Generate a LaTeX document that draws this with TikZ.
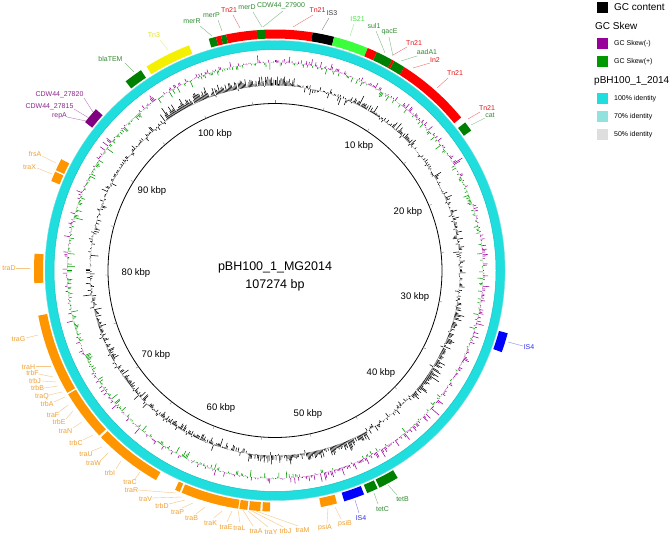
\documentclass[tikz,border=0pt]{standalone}
\usepackage{fontspec}
\setmainfont{Liberation Sans}
\definecolor{ringcyan}{RGB}{32,222,222}
\definecolor{ringedge}{RGB}{20,196,196}
\definecolor{fred}{RGB}{255,0,0}
\definecolor{fgreen}{RGB}{0,128,0}
\definecolor{flgreen}{RGB}{60,255,60}
\definecolor{fyellow}{RGB}{245,240,0}
\definecolor{forange}{RGB}{255,150,0}
\definecolor{fblue}{RGB}{0,0,255}
\definecolor{fpurple}{RGB}{128,0,128}
\definecolor{tgreen}{RGB}{50,140,50}
\definecolor{tred}{RGB}{235,20,20}
\definecolor{tlgreen}{RGB}{70,230,70}
\definecolor{tyellow}{RGB}{225,225,40}
\definecolor{torange}{RGB}{240,160,50}
\definecolor{tblue}{RGB}{50,50,235}
\definecolor{tpurple}{RGB}{140,40,140}
\definecolor{tgray}{RGB}{60,60,60}
\definecolor{skewneg}{RGB}{153,0,153}
\definecolor{skewpos}{RGB}{0,153,0}
\definecolor{id70}{RGB}{145,225,222}
\definecolor{id50}{RGB}{222,222,222}

\newcommand\featarc[3]{\fill[#1] ({#2-90}:232) arc[start angle={#2-90},end angle={#3-90},radius=232] -- ({#3-90}:241) arc[start angle={#3-90},end angle={#2-90},radius=241] -- cycle;}
\newcommand\flab[6]{%
  \node[lbl,text=#2] (#1) at (#3) {#4};
  \coordinate (#1-s) at (#5);
  \coordinate (#1-e) at (#6);
  \draw[leader,draw=#2!60] (#1-s) -- (#1-e);}

\begin{document}
\begin{tikzpicture}[x=1pt,y=-1pt,
  lbl/.style={font=\fontsize{7}{8}\selectfont,inner sep=0pt},
  leader/.style={line width=0.4pt},
  kbp/.style={font=\fontsize{9.5}{11}\selectfont,inner sep=0pt},
  title/.style={font=\fontsize{12.5}{14}\selectfont,inner sep=0pt},
  legsq/.style={minimum size=11pt,inner sep=0pt,anchor=north west},
  legbig/.style={font=\fontsize{10}{12}\selectfont,inner sep=0pt,anchor=west},
  legsmall/.style={font=\fontsize{7}{8}\selectfont,inner sep=0pt,anchor=west}]
\useasboundingbox (0,0) rectangle (669,537);
\fill[white] (0,0) rectangle (669,537);

\begin{scope}[shift={(275,270.5)}]
  % data tracks
  \pgfmathsetseed{4242}
  \foreach \i in {0,...,999}{
    \pgfmathsetmacro\ang{\i*0.36}
    \pgfmathsetmacro\gb{7*or(\ang>325,\ang<6)+3*and(\ang>25,\ang<48)+1.5*and(\ang>60,\ang<95)+5*and(\ang>100,\ang<132)+5*and(\ang>150,\ang<188)-3*and(\ang>195,\ang<262)+1.5*and(\ang>300,\ang<325)}
    \pgfmathsetmacro\gv{\gb*(0.3+1.0*rnd)+6*rand*rnd+5*rand*(rnd>0.8)}
    \pgfmathsetmacro\gv{max(-13,min(13,\gv))}
    \draw[black,line width=0.55pt] ({\ang-90}:185) -- ({\ang-90}:{185+\gv});
    \pgfmathsetmacro\sb{0.9*(\ang<60)+1.2*and(\ang>95,\ang<178)-0.9*and(\ang>200,\ang<330)+0.4*(\ang>330)}
    \pgfmathsetmacro\sv{\sb*(0.4+rnd)+8*rand*rnd+3*rand*(rnd>0.85)}
    \pgfmathsetmacro\sv{max(-11,min(11,\sv))}
    \ifdim\sv pt>0pt
      \draw[skewneg,line width=0.55pt] ({\ang-90}:208) -- ({\ang-90}:{208+\sv});
    \else
      \draw[skewpos,line width=0.55pt] ({\ang-90}:208) -- ({\ang-90}:{208+\sv});
    \fi
  }
  % inner circle and ticks
  \draw[black,line width=0.8pt] (0,0) circle[radius=167];
  \foreach \k in {0,5,...,105}{
    \draw[gray,line width=0.4pt] ({\k*3.35589-90}:167) -- ({\k*3.35589-90}:170);
  }
  % identity ring
  \fill[ringcyan,even odd rule] (0,0) circle[radius=230] (0,0) circle[radius=221];
  \draw[ringedge,line width=0.5pt] (0,0) circle[radius=221];
  \draw[ringedge!60,line width=0.4pt] (0,0) circle[radius=230];
  % features
  \featarc{fgreen}{-15.95}{-14.2}
  \featarc{fred}{-14.2}{-12.95}
  \featarc{fgreen}{-12.95}{-11.7}
  \featarc{fred}{-11.7}{-4.37}
  \featarc{fgreen}{-4.37}{-2.42}
  \featarc{fred}{-2.42}{9.0}
  \featarc{black}{9.0}{14.2}
  \featarc{flgreen}{14.2}{22.65}
  \featarc{fred}{22.65}{25.0}
  \featarc{fgreen}{25.0}{29.1}
  \featarc{fred}{29.1}{29.65}
  \featarc{fgreen}{29.65}{32.5}
  \featarc{fred}{32.5}{50.6}
  \featarc{fgreen}{52.1}{54.5}
  \featarc{fblue}{105.1}{109.8}
  \featarc{fgreen}{149.4}{154.3}
  \featarc{fgreen}{154.8}{157.5}
  \featarc{fblue}{158.3}{163.3}
  \featarc{forange}{165.1}{169.0}
  \featarc{forange}{181.2}{183.0}
  \featarc{forange}{183.5}{186.2}
  \featarc{forange}{186.6}{188.5}
  \featarc{forange}{188.8}{202.8}
  \featarc{forange}{203.3}{204.5}
  \featarc{forange}{209.6}{226.2}
  \featarc{forange}{226.8}{239.1}
  \featarc{forange}{239.5}{259.2}
  \featarc{forange}{267.0}{274.0}
  \featarc{forange}{291.8}{294.2}
  \featarc{forange}{294.6}{297.5}
  \featarc{fpurple}{308.0}{312.0}
  \featarc{fgreen}{321.7}{326.2}
  \featarc{fyellow}{327.8}{339.1}
\end{scope}

% title
\node[title] (title) at (275,267) {pBH100\_1\_MG2014};
\node[title] (size) at (275,285) {107274 bp};

% kbp labels
\node[kbp] (k100) at (215,134) {100 kbp};
\node[kbp] (k10) at (359,146) {10 kbp};
\node[kbp] (k20) at (408,212) {20 kbp};
\node[kbp] (k30) at (415,297) {30 kbp};
\node[kbp] (k40) at (381,373) {40 kbp};
\node[kbp] (k50) at (308,414) {50 kbp};
\node[kbp] (k60) at (221,408) {60 kbp};
\node[kbp] (k70) at (156,355) {70 kbp};
\node[kbp] (k80) at (136,273) {80 kbp};
\node[kbp] (k90) at (152,191) {90 kbp};

% feature labels
\flab{lblaTEM}{tgreen}{110.5,59}{blaTEM}{125,63}{134,72}
\flab{lTnthree}{tyellow}{154,35}{Tn3}{160,40}{168,50}
\flab{lmerR}{tgreen}{192,21}{merR}{200,26}{212,36}
\flab{lmerP}{tgreen}{211.5,15}{merP}{218,20}{222,31}
\flab{lTnA}{tred}{229,10}{Tn21}{233,15}{240,28}
\flab{lmerD}{tgreen}{247,7}{merD}{253,12}{262,27}
\flab{lCDW}{tgreen}{281,6}{CDW44\_27900}{283,11}{263,27}
\flab{lTnB}{tred}{317.5,10}{Tn21}{313,15}{293,27}
\flab{lISthree}{tgray}{332,13}{IS3}{329,18}{322,30}
\flab{lIStwo}{tlgreen}{357.5,19}{IS21}{354,24}{350,36}
\flab{lsul}{tgreen}{374,26}{sul1}{376,31}{385,53}
\flab{lqac}{tgreen}{389.5,32}{qacE}{389,37}{393,56}
\flab{lTnC}{tred}{414,43}{Tn21}{407,47}{393,55}
\flab{laad}{tgreen}{427,52}{aadA1}{417,56}{401,61}
\flab{lIn}{tred}{435,60}{In2}{430,63}{413,68}
\flab{lTnD}{tred}{455,73}{Tn21}{448,78}{437,88}
\flab{lTnE}{tred}{487,108}{Tn21}{480,112}{468,119}
\flab{lcat}{tgreen}{490,115.5}{cat}{485,118}{471,125}
\flab{lISfourR}{tblue}{529,347}{IS4}{523,346}{508,342}
\flab{ltetB}{tgreen}{402.5,499}{tetB}{397,495}{388,485}
\flab{ltetC}{tgreen}{382.5,509}{tetC}{378,504}{374,493}
\flab{lISfourB}{tblue}{361,518}{IS4}{359,513}{355,500}
\flab{lpsiB}{torange}{345,524}{psiB}{341,519}{335,507}
\flab{lpsiA}{torange}{325,528}{psiA}{327,523}{328,508}
\flab{ltraM}{torange}{302.5,530}{traM}{298,526}{256,511}
\flab{ltrbJb}{torange}{285.5,531}{trbJ}{283,527}{252,511}
\flab{ltraY}{torange}{271,532}{traY}{268,527}{248,511}
\flab{ltraA}{torange}{256,531}{traA}{253,526}{243,510}
\flab{ltraL}{torange}{239.5,528}{traL}{240,523}{238,510}
\flab{ltraE}{torange}{226,527}{traE}{227,522}{232,511}
\flab{ltraK}{torange}{210.5,523}{traK}{214,518}{222,511}
\flab{ltraB}{torange}{191.5,518}{traB}{196,514}{205,507}
\flab{ltraP}{torange}{177.5,512}{traP}{182,508}{193,503}
\flab{ltrbD}{torange}{162,506}{trbD}{169,504}{185,500}
\flab{ltraV}{torange}{145.5,499}{traV}{152,498}{182,497}
\flab{ltraR}{torange}{131.5,490}{traR}{138,490}{176,493}
\flab{ltraC}{torange}{130,482}{traC}{135,479}{140,472}
\flab{ltrbI}{torange}{110,473}{trbI}{116,469}{121,461}
\flab{ltraW}{torange}{93.5,463}{traW}{101,460}{108,453}
\flab{ltraU}{torange}{86,454}{traU}{92,451}{102,447}
\flab{ltrbC}{torange}{76,443}{trbC}{83,440}{93,435}
\flab{ltraN}{torange}{65.5,431}{traN}{73,428}{82,422}
\flab{ltrbE}{torange}{59,422}{trbE}{66,419}{73,411}
\flab{ltraF}{torange}{53,415}{traF}{59,412}{68,405}
\flab{ltrbA}{torange}{47,404}{trbA}{54,402}{65,397}
\flab{ltraQ}{torange}{42,397}{traQ}{49,395}{62,392}
\flab{ltrbB}{torange}{37.5,388}{trbB}{44,388}{58,386}
\flab{ltrbJ}{torange}{35,381}{trbJ}{42,381}{56,382}
\flab{ltrbF}{torange}{32.5,373}{trbF}{39,374}{53,377}
\flab{ltraH}{torange}{28.5,367}{traH}{36,366}{51,366}
\flab{ltraG}{torange}{18.5,339}{traG}{26,338}{38,335}
\flab{ltraD}{torange}{9,268}{traD}{16,268}{30,268}
\flab{ltraX}{torange}{29.5,167}{traX}{37,168}{52,174}
\flab{lfrsA}{torange}{35,154}{frsA}{42,156}{56,163}
\flab{lrepA}{tpurple}{59.5,116}{repA}{67,117}{86,121}
\flab{lCDWb}{tpurple}{49.5,107}{CDW44\_27815}{74,109}{89,118}
\flab{lCDWc}{tpurple}{59.5,95}{CDW44\_27820}{84,98}{93,112}

% legend
\node[legsq,fill=black] (sqgc) at (597,2) {};
\node[legbig] (tgc) at (614,7.5) {GC content};
\node[legbig] (tskew) at (595,26) {GC Skew};
\node[legsq,fill=skewneg] (sqneg) at (597,38) {};
\node[legsmall] (tneg) at (614,44) {GC Skew(-)};
\node[legsq,fill=skewpos] (sqpos) at (597,55.5) {};
\node[legsmall] (tpos) at (614,61.5) {GC Skew(+)};
\node[legbig] (tref) at (594,81) {pBH100\_1\_2014};
\node[legsq,fill=ringcyan] (sq100) at (597,93) {};
\node[legsmall] (t100) at (614,99) {100\% identity};
\node[legsq,fill=id70] (sq70) at (597,111) {};
\node[legsmall] (t70) at (614,117) {70\% identity};
\node[legsq,fill=id50] (sq50) at (597,129) {};
\node[legsmall] (t50) at (614,135) {50\% identity};
\end{tikzpicture}
\end{document}
